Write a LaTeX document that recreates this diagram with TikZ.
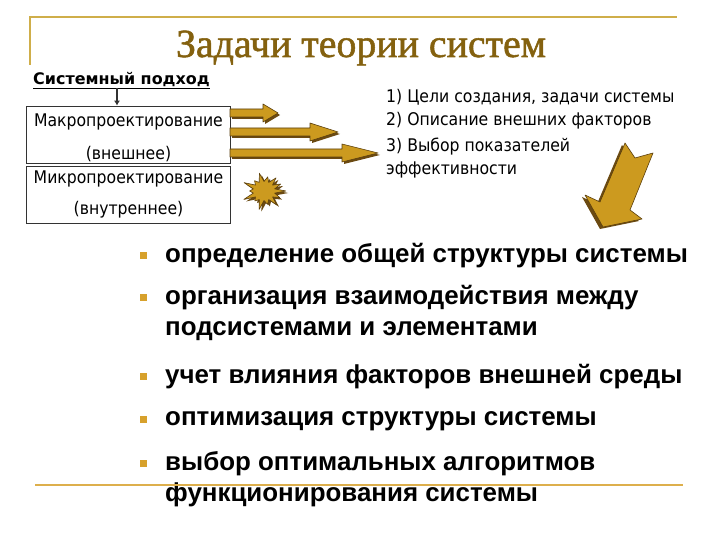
\documentclass[tikz,border=0pt]{standalone}
\usepackage{fontspec}
\setmainfont{Liberation Sans}
\newfontfamily\titlefont[FakeBold=1.3]{Liberation Serif}
\newfontfamily\condfont{DejaVu Sans Condensed}
\newfontfamily\verdfont{DejaVu Sans}
\usepackage{tikz}
\usetikzlibrary{arrows.meta,positioning}
\definecolor{slidegold}{HTML}{CC9A1F}
\definecolor{goldedge}{HTML}{5A3E0C}
\definecolor{goldshade}{HTML}{6B4A12}
\definecolor{ruleline}{HTML}{CFAE4A}
\definecolor{titlebrown}{HTML}{84610F}
\definecolor{bulgold}{HTML}{D7A12C}

% one gold block arrow out of the box: y, head start, tip
\newcommand{\goldarrow}[3]{%
  \fill[goldshade] (232,#1-2) -- (#2+2,#1-2) -- (#2+2,#1-7) -- (#3+2,#1+2) -- (#2+2,#1+11) -- (#2+2,#1+6) -- (232,#1+6) -- cycle;
  \filldraw[blockarr] (230,#1-4) -- (#2,#1-4) -- (#2,#1-9) -- (#3,#1) -- (#2,#1+9) -- (#2,#1+4) -- (230,#1+4) -- cycle;}

\begin{document}
\begin{tikzpicture}[
  x=1bp,y=-1bp,
  blockarr/.style={fill=slidegold,draw=goldedge,line width=0.6bp,line join=round},
  framerule/.style={draw=ruleline,line width=2bp},
  title/.style={font=\titlefont\fontsize{40}{42}\selectfont,text=titlebrown,inner sep=0,anchor=base},
  boxrect/.style={draw=black!80,line width=0.8bp,minimum width=204bp,inner sep=0},
  boxtxt/.style={font=\condfont\fontsize{17.5}{20}\selectfont,inner sep=0,anchor=base},
  note/.style={font=\condfont\fontsize{17.5}{20}\selectfont,inner sep=0,anchor=base west},
  bul/.style={fill=bulgold,minimum size=7bp,inner sep=0},
  item/.style={font=\bfseries\fontsize{26}{30}\selectfont,inner sep=0,anchor=base west}
]
\useasboundingbox (0,0) rectangle (720,540);
\fill[white] (0,0) rectangle (720,540);

%------ title frame -----------------------------------------------------------
\coordinate (tl) at (30,17);
\coordinate (tr) at (677,17);
\coordinate (lb) at (30,65);
\draw[framerule] (lb) -- (tl) -- (tr);
\node[title] (ttl) at (361,57) {Задачи теории систем};

%------ systems approach box --------------------------------------------------
\node[font=\verdfont\bfseries\fontsize{16}{18}\selectfont,inner sep=0,anchor=base west] (sys) at (33,85)
      {\underline{Системный подход}};
\node[boxrect,minimum height=57.5bp] (macro) at (128.5,134.75) {};
\node[boxrect,minimum height=57bp] (micro) at (128.5,194.5) {};
\node[boxtxt] (mac1) at (128.5,127) {Макропроектирование};
\node[boxtxt] (mac2) at (128.5,160) {(внешнее)};
\node[boxtxt] (mic1) at (128.5,184) {Микропроектирование};
\node[boxtxt] (mic2) at (128.5,215) {(внутреннее)};
\coordinate (dn) at (117,88);
\draw[black!80,line width=1.6bp,-{Latex[length=5bp,width=6bp]}] (dn) -- (dn |- macro.north);

%------ gold arrows + burst ---------------------------------------------------
\goldarrow{113}{263}{278}
\goldarrow{132}{310}{338}
\goldarrow{153}{342}{378}
\coordinate (burst) at (264,191);
\begin{scope}[shift={(burst)},xscale=1.15]
\fill[goldshade,shift={(2,2)}] (0:19) \foreach \k in {1,...,27} { -- ({\k*360/28}:{ifthenelse(isodd(\k),9.5,16+3.5*sin(\k*97))}) } -- cycle;
\filldraw[blockarr] (0:19) \foreach \k in {1,...,27} { -- ({\k*360/28}:{ifthenelse(isodd(\k),9.5,16+3.5*sin(\k*97))}) } -- cycle;
\end{scope}

%------ notes on the right ----------------------------------------------------
\node[note] (n1) at (386,103) {1) Цели создания, задачи системы};
\node[note] (n2) at (386,126) {2) Описание внешних факторов};
\node[note] (n3) at (386,152) {3) Выбор показателей};
\node[note] (n4) at (386,175) {эффективности};

%------ big arrow down-left ---------------------------------------------------
\fill[goldshade] (622,145) -- (632,160) -- (650,155) -- (627,212) -- (639,221) -- (600,229) -- (582,197) -- (597,204) -- cycle;
\filldraw[blockarr] (625,143) -- (635,158) -- (653,153) -- (630,210) -- (642,219) -- (603,227) -- (585,195) -- (600,202) -- cycle;

%------ bullet list -----------------------------------------------------------
\node[bul] (b1) at (143,256) {};
\node[bul] (b2) at (143,297) {};
\node[bul] (b3) at (143,376) {};
\node[bul] (b4) at (143,419) {};
\node[bul] (b5) at (143,463) {};
\node[item] (i1)  at (165,263) {определение общей структуры системы};
\node[item] (i2)  at (165,304) {организация взаимодействия между};
\node[item] (i2b) at (165,335) {подсистемами и элементами};
\node[item] (i3)  at (165,383) {учет влияния факторов внешней среды};
\node[item] (i4)  at (165,425) {оптимизация структуры системы};
\node[item] (i5)  at (165,470) {выбор оптимальных алгоритмов};
\node[item] (i5b) at (165,501) {функционирования системы};

%------ bottom rule -----------------------------------------------------------
\coordinate (bl) at (35,485);
\coordinate (br) at (683,485);
\draw[framerule,draw=bulgold!85,line width=2.4bp] (bl) -- (br);
\end{tikzpicture}
\end{document}
